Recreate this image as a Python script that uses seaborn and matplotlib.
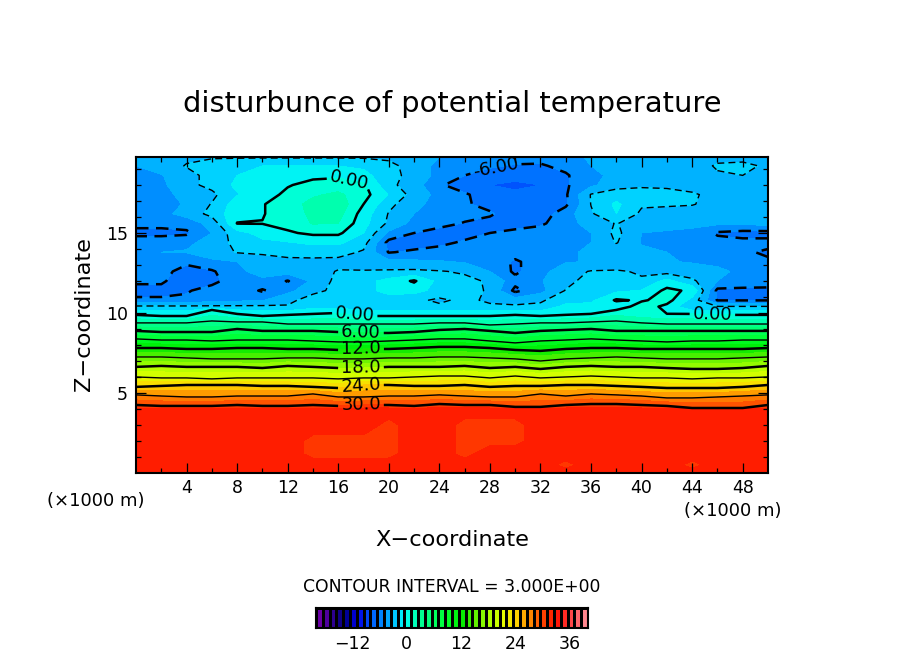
import numpy as np
import matplotlib
matplotlib.use("Agg")
import matplotlib.pyplot as plt
from matplotlib.colors import LinearSegmentedColormap
import seaborn as sns

# ---------- data ----------
x_km = [0, 2, 4, 6, 8, 10, 12, 14, 16, 18, 20, 22, 24, 26, 28, 30, 32, 34, 36, 38, 40, 42, 44, 46, 48, 50]

# red layer near the ground: (height, values)
z_low = [0.0, 0.5, 1.2, 2.0, 3.0, 4.0]
t_z00 = [32, 32, 32, 32, 32, 32, 32, 32, 32, 32, 32, 32, 32, 32, 32, 32, 32, 32, 32, 32, 32, 32, 32, 32, 32, 32]
t_z05 = [32, 32, 32, 32, 32, 32, 32, 32, 32, 32, 32, 32, 32, 32, 32, 32, 32, 31.2, 32, 32, 32, 32, 31.2, 32, 32, 32]
t_z12 = [32, 32, 32, 32, 32, 32, 32, 31.2, 31.2, 31.2, 31.2, 32, 32, 31.2, 32, 32, 32, 32, 32, 32, 32, 32, 32, 32, 32, 32]
t_z20 = [32, 32, 32, 32, 32, 32, 32, 31.2, 31.2, 31.2, 31.2, 32, 32, 31.2, 31.2, 31.2, 32, 32, 32, 32, 32, 32, 32, 32, 32, 32]
t_z30 = [32, 32, 32, 32, 32, 32, 32, 32, 32, 32, 31.2, 32, 32, 31.2, 31.2, 31.2, 32, 32, 32, 32, 32, 32, 32, 32, 32, 32]
t_z40 = [32, 32, 32, 32, 32, 32, 32, 32, 32, 32, 32, 32, 32, 32, 32, 32, 32, 32, 32, 32, 32, 32, 32, 32, 32, 32]

# stratified layer: height of each isotherm along x
iso_values = [30.01, 27.01, 24.01, 21.01, 18.01, 15.01, 12.01, 9.01, 6.01, 3.01, 0.01]
h30 = [4.25,4.19,4.19,4.19,4.25,4.19,4.19,4.25,4.19,4.25,4.25,4.19,4.31,4.25,4.25,4.13,4.13,4.25,4.31,4.31,4.25,4.19,4.06,4.06,4.06,4.25]
h27 = [4.88,4.81,4.75,4.75,4.81,4.81,4.81,4.94,4.75,4.75,4.81,4.81,4.88,4.81,4.75,4.75,4.94,4.81,4.94,4.88,4.81,4.69,4.69,4.75,4.81,4.88]
h24 = [5.38,5.44,5.5,5.5,5.5,5.44,5.44,5.38,5.31,5.5,5.5,5.44,5.44,5.5,5.38,5.44,5.44,5.5,5.5,5.44,5.38,5.31,5.31,5.31,5.38,5.5]
h21 = [6.0,5.94,5.94,5.88,5.94,5.94,5.94,5.94,5.88,5.94,5.94,6.0,6.06,6.06,5.94,6.06,5.94,6.0,6.06,6.0,5.94,5.94,5.88,5.94,5.94,6.0]
h18 = [6.63,6.69,6.63,6.63,6.63,6.56,6.69,6.63,6.56,6.56,6.63,6.63,6.63,6.69,6.56,6.63,6.5,6.63,6.69,6.63,6.63,6.56,6.5,6.5,6.56,6.69]
h15 = [7.25,7.25,7.19,7.13,7.13,7.13,7.19,7.19,7.13,7.13,7.19,7.19,7.25,7.25,7.19,7.13,7.0,7.13,7.19,7.25,7.19,7.13,7.13,7.13,7.19,7.25]
h12 = [7.81,7.81,7.75,7.75,7.81,7.81,7.75,7.75,7.69,7.75,7.75,7.81,7.88,7.88,7.81,7.69,7.63,7.75,7.81,7.81,7.75,7.75,7.75,7.75,7.75,7.81]
h09 = [8.38,8.31,8.31,8.25,8.31,8.31,8.31,8.25,8.19,8.19,8.25,8.31,8.38,8.38,8.25,8.13,8.25,8.31,8.38,8.31,8.25,8.19,8.25,8.25,8.31,8.31]
h06 = [8.88,8.81,8.81,8.81,9.0,8.88,8.88,8.88,8.81,8.75,8.75,8.81,8.94,9.0,8.88,8.75,8.88,8.94,9.0,8.88,8.88,8.88,8.88,8.88,8.88,8.88]
h03 = [9.38,9.38,9.38,9.5,9.44,9.44,9.31,9.31,9.31,9.31,9.31,9.31,9.38,9.38,9.25,9.31,9.38,9.38,9.44,9.5,9.38,9.31,9.31,9.31,9.31,9.31]
h00 = [9.88,9.81,9.81,10.19,9.94,9.81,9.88,9.94,10.0,9.81,9.81,9.81,9.81,9.81,9.81,9.88,9.81,9.88,9.94,10.19,10.06,9.94,9.94,9.88,9.88,9.88]

# upper layer: values at constant height
z_up = [10.4, 10.8, 11.4, 12.0, 12.6, 13.2, 13.8, 14.4, 15.0, 15.6, 16.2, 16.8, 17.4, 18.0, 18.6, 19.2, 19.75]
t_104 = [-2.7,-2.7,-2.7,-2.7,-2.7,-2.7,-2.9,-2,-2,-2.5,-2.7,-2.7,-2.7,-2.7,-2.7,-2.7,-2.7,-1,-1,-1,0.8,-0.4,-2.9,-2.9,-2.9,-2.9]
t_108 = [-5.8,-5.8,-5.6,-5,-4.8,-4.6,-3.3,-2.5,-2.8,-2.5,-2.5,-2.6,-3.3,-2.6,-3.3,-3.8,-3.2,-2.2,-1.8,0.2,-0.2,0.6,-2,-6.1,-6.1,-6.1]
t_114 = [-6.4,-6.4,-6.2,-5.2,-5,-6.2,-5,-3.3,-2.7,-2.2,-0.8,-1,-2,-2.4,-3.2,-6.4,-5,-2.9,-1.8,-1.8,-1.4,0.4,-0.3,-6.4,-6.5,-6.5]
t_120 = [-5.8,-5.8,-6.8,-6.6,-4.9,-4.8,-6.1,-4.2,-2.5,-2,-1,0.2,-2,-2.6,-3.2,-5.5,-4.6,-3.6,-2.2,-2.5,-2.8,-1,-2.7,-4.5,-4.8,-5]
t_126 = [-5.2,-5.5,-6.6,-6.2,-4.8,-4,-3.8,-3.6,-2.9,-2.9,-2.8,-2.7,-2.9,-3.2,-4.5,-6.3,-5,-3.6,-2.9,-2.8,-3.2,-3.6,-3.8,-4,-5,-5.4]
t_132 = [-4.6,-4.7,-5.7,-4.8,-4.5,-3.6,-3.4,-3.4,-3.5,-3.7,-4,-4.2,-4.4,-4.6,-4.8,-6.3,-5,-4.6,-4.4,-4.2,-4.2,-4.4,-4.6,-5,-5.4,-5.8]
t_138 = [-4.6,-4.5,-4.4,-3.8,-2.9,-2.8,-2.5,-2.4,-2.4,-3.2,-6.1,-5.7,-5.2,-5,-4.8,-5.2,-4.8,-4.6,-4.4,-3.8,-4.2,-4.5,-4.8,-5,-5.8,-6.2]
t_144 = [-5,-5,-4.8,-4,-2.5,-1.8,-1.6,-1.2,-1.2,-2.4,-6.5,-6.8,-6.5,-5.7,-5.2,-5,-4.8,-4.8,-4.5,-2.9,-4.6,-4.8,-5,-5.5,-5.6,-5.6]
t_150 = [-6.5,-6.5,-6.3,-4.5,-2,-1,-0.2,0.3,0.3,-1.5,-4.8,-6,-6.6,-6.8,-6,-5.5,-5.2,-4.8,-4.5,-2.6,-4.5,-4.6,-4.8,-6.2,-6.5,-6.5]
t_156 = [-5.5,-5.5,-5.3,-4,0.05,0.05,0.5,1.6,1.5,-1,-3.3,-5,-5.5,-6.1,-6.5,-6.8,-6.3,-5,-4,-2.9,-4,-4.2,-4.2,-4.2,-4.2,-4]
t_162 = [-5,-4.9,-4,-2.5,-0.5,-0.1,0.8,1.8,2.1,-0.7,-3.1,-4.5,-5.2,-5.5,-5.8,-6.8,-6.8,-5.2,-3.2,-1.5,-3.3,-3.6,-3.8,-3.8,-4,-4]
t_168 = [-5,-4.9,-4.4,-2.9,-0.7,-0.1,0.8,2,2.5,0,-2.6,-4,-5.2,-5.8,-6.5,-7,-6.8,-6.3,-2.95,-1.2,-2.8,-2.8,-2.9,-3.6,-3.8,-4]
t_174 = [-5,-4.8,-4.2,-3.4,-1.6,-0.6,0.3,1.3,1.8,0.6,-1.6,-3.6,-5,-5.8,-6.8,-7.2,-7,-6.2,-2.9,-2.2,-2.2,-2.3,-2.8,-3.5,-3.8,-4]
t_180 = [-5,-4.8,-3.5,-2.5,-1.2,-0.5,-0.1,0.4,0.8,0.3,-2.6,-3.8,-5.8,-6.8,-7.5,-7.8,-7.5,-6.2,-4.8,-3.6,-3.3,-3.4,-3.6,-3.8,-3.8,-4]
t_186 = [-4.8,-4.6,-3.5,-2.5,-1.5,-0.8,-0.5,-0.3,-0.3,-1,-2.5,-3.5,-5,-6.0,-6.6,-7,-7,-6.2,-4.8,-4.2,-4.2,-4,-3.8,-3.2,-3,-3.6]
t_192 = [-4.5,-3.8,-2.9,-2.2,-1.8,-1.5,-1.5,-1.5,-1.5,-1.8,-2.6,-3.6,-5,-5.3,-5.8,-6.1,-6.2,-5.5,-4.5,-4.2,-4.2,-4,-3.8,-2.8,-2.7,-3.2]
t_198 = [-3.8,-3.5,-3.3,-3.2,-3.2,-3.2,-3.2,-3.2,-3.2,-3.2,-3.3,-3.6,-4.5,-5,-5.4,-5.5,-5.4,-5,-4.3,-4,-4,-4,-3.8,-3.5,-3.4,-3.5]

bar_ticks = [-12, 0, 12, 24, 36]
x_ticks = [4, 8, 12, 16, 20, 24, 28, 32, 36, 40, 44, 48]
y_ticks = [5, 10, 15]
TITLE = "disturbunce of potential temperature"

# ---------- assemble the curvilinear grid ----------
low_rows = [t_z00, t_z05, t_z12, t_z20, t_z30, t_z40]
iso_rows = [h30, h27, h24, h21, h18, h15, h12, h09, h06, h03, h00]
up_rows = [t_104, t_108, t_114, t_120, t_126, t_132, t_138, t_144, t_150, t_156,
           t_162, t_168, t_174, t_180, t_186, t_192, t_198]
n = len(x_km)
Z = np.array([[z] * n for z in z_low] + iso_rows + [[z] * n for z in z_up], dtype=float)
T = np.array(low_rows + [[v] * n for v in iso_values] + up_rows, dtype=float)
X = np.tile(np.array(x_km, dtype=float), (Z.shape[0], 1))

# ---------- colours ----------
stops = [(-20, (120, 0, 170)), (-17, (60, 0, 150)), (-14, (0, 0, 130)), (-11, (0, 0, 230)),
         (-8, (0, 90, 255)), (-5, (0, 150, 255)), (-3, (0, 195, 255)), (-1.5, (0, 230, 255)),
         (0, (0, 255, 235)), (1.5, (0, 255, 190)), (3, (0, 255, 150)), (6, (0, 255, 100)),
         (9, (0, 255, 40)), (12, (0, 235, 0)), (15, (90, 240, 0)), (18, (170, 255, 0)),
         (21, (225, 255, 0)), (24, (255, 215, 0)), (27, (255, 140, 0)), (30, (255, 70, 0)),
         (33, (255, 15, 0)), (36, (255, 60, 60)), (40, (255, 150, 160))]
cmap = LinearSegmentedColormap.from_list(
    "ncar", [((v + 20) / 60, tuple(c / 255 for c in rgb)) for v, rgb in stops], N=256)

# ---------- figure ----------
sns.set_theme(style="ticks", rc={"axes.linewidth": 1.5, "text.color": "black",
                                 "xtick.color": "black", "ytick.color": "black",
                                 "axes.edgecolor": "black", "axes.axisbelow": False})
plt.rcParams["font.family"] = ["DejaVu Sans"]
W, H = 904, 654
fig = plt.figure(figsize=(W / 100, H / 100), dpi=100, facecolor="white")
ax = fig.add_axes([136 / W, 1 - 473 / H, (768 - 136) / W, (473 - 157) / H])
ax.set_axisbelow(False)

fill_levels = np.arange(-21, 40.5, 1.5)
ax.contourf(X, Z, T, levels=fill_levels, cmap=cmap, vmin=-20, vmax=40, antialiased=False)

dash = (0, (5, 3))
thin_neg = [-9, -3]
thin_pos = [3, 9, 15, 21, 27]
thick_neg = [-6]
thick_pos = [0, 6, 12, 18, 24, 30]
ax.contour(X, Z, T, levels=thin_neg, colors="black", linewidths=1.0, linestyles=[dash, dash])
ax.contour(X, Z, T, levels=thin_pos, colors="black", linewidths=1.0, linestyles="solid")
cs_neg = ax.contour(X, Z, T, levels=thick_neg, colors="black", linewidths=1.8, linestyles=[dash])
cs_pos = ax.contour(X, Z, T, levels=thick_pos, colors="black", linewidths=1.8, linestyles="solid")
fmt = {-6: "-6.00", 0: "0.00", 6: "6.00", 12: "12.0", 18: "18.0", 24: "24.0", 30: "30.0"}
ax.clabel(cs_pos, fmt=fmt, fontsize=13, inline=True, inline_spacing=3,
          manual=[(17.3, 9.85), (17.8, 8.8), (17.8, 7.75), (17.8, 6.6), (17.8, 5.4), (17.8, 4.2),
                  (45.6, 9.88), (16.8, 18.0)])
ax.clabel(cs_neg, fmt=fmt, fontsize=13, inline=True, inline_spacing=3, manual=[(28.5, 18.85)])

ax.set_xlim(0, 50)
ax.set_ylim(0, 19.75)
ax.set_xticks(x_ticks)
ax.set_yticks(y_ticks)
ax.set_xticks(np.arange(2, 50, 4), minor=True)
ax.set_yticks([v for v in range(1, 20) if v % 5], minor=True)
ax.tick_params(which="major", direction="in", length=7, width=0.9, top=True, right=True,
               labelsize=12.5)
ax.tick_params(axis="x", which="major", pad=4)
ax.tick_params(axis="y", which="major", pad=6)
ax.tick_params(which="minor", direction="in", length=3.5, width=0.9, top=True, right=True)
for s in ax.spines.values():
    s.set_linewidth(1.5)
    s.set_visible(True)

def ptext(px, py, s, **kw):
    fig.text(px / W, 1 - py / H, s, ha="center", va="center", color="black", **kw)

ptext(452, 104, TITLE, fontsize=20.8)
ptext(452, 540, "X\u2212coordinate", fontsize=16.2)
ptext(84, 314, "Z\u2212coordinate", fontsize=16.2, rotation=90)
ptext(96, 501, "(\u00d71000 m)", fontsize=13)
ptext(733, 511, "(\u00d71000 m)", fontsize=13)
ptext(452, 587, "CONTOUR INTERVAL = 3.000E+00", fontsize=12.4)

# ---------- colour bar ----------
cax = fig.add_axes([316 / W, 1 - 628 / H, (588 - 316) / W, 20 / H])
bar_vals = np.arange(-19.25, 40, 1.5).reshape(1, -1)
sns.heatmap(bar_vals, ax=cax, cmap=cmap, vmin=-20, vmax=40, cbar=False, linewidths=2,
            linecolor="black", xticklabels=False, yticklabels=False)
cax.set_xticks([(v + 20) / 1.5 for v in bar_ticks])
cax.set_xticklabels([str(v).replace("-", "\u2212") for v in bar_ticks], fontsize=12.5)
cax.tick_params(axis="x", length=0, pad=5, bottom=False)
for s in cax.spines.values():
    s.set_visible(True)
    s.set_linewidth(1.5)
    s.set_color("black")

fig.savefig("out.png", dpi=100, facecolor="white")
